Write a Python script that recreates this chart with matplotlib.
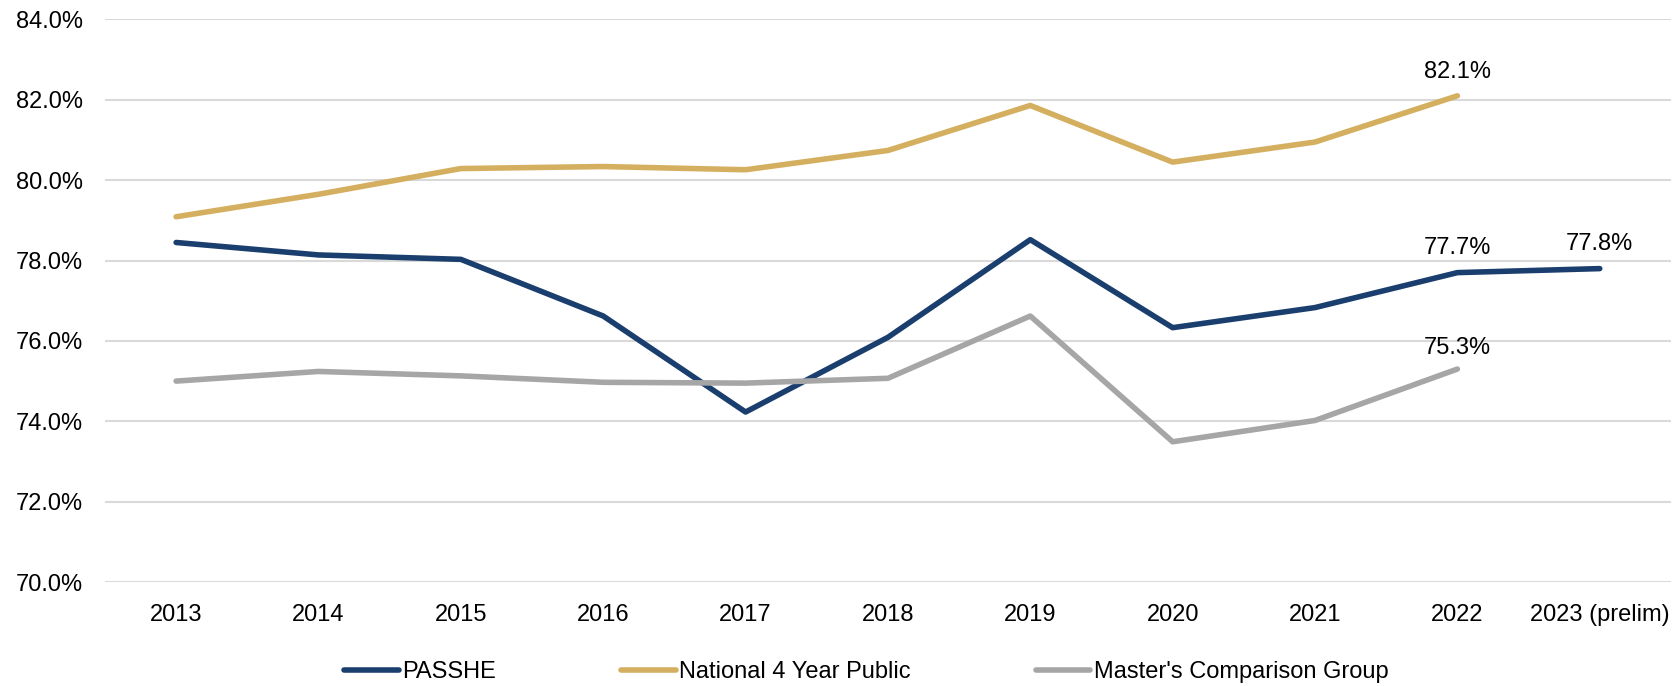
import matplotlib.pyplot as plt
from matplotlib.ticker import FuncFormatter

plt.rcParams['font.family'] = ['Liberation Sans', 'DejaVu Sans']

years = ['2013', '2014', '2015', '2016', '2017', '2018', '2019', '2020', '2021', '2022', '2023 (prelim)']
passhe = [78.45, 78.14, 78.03, 76.62, 74.23, 76.09, 78.52, 76.33, 76.83, 77.7, 77.8]
national = [79.09, 79.65, 80.29, 80.34, 80.26, 80.74, 81.86, 80.45, 80.95, 82.1]
masters = [75.0, 75.24, 75.13, 74.97, 74.95, 75.07, 76.62, 73.49, 74.02, 75.3]

c_passhe = '#1a3e6d'
c_nat = '#d4af5f'
c_mas = '#a6a6a6'
fs = 17

fig = plt.figure(figsize=(16.79, 6.86), dpi=100)
ax = fig.add_axes([0.0625, 0.1516, 0.9327, 0.82])

x = list(range(len(years)))
lw = 4
ax.plot(x, passhe, color=c_passhe, lw=lw, solid_capstyle='round', label='PASSHE')
ax.plot(x[:len(national)], national, color=c_nat, lw=lw, solid_capstyle='round', label='National 4 Year Public')
ax.plot(x[:len(masters)], masters, color=c_mas, lw=lw, solid_capstyle='round', label="Master's Comparison Group")

# data labels on the last points
labels = [(9, national[9], 17), (9, passhe[9], 18), (10, passhe[10], 18), (9, masters[9], 15)]
for xi, v, off in labels:
    ax.annotate(f'{v:.1f}%', (xi, v), xytext=(0, off), textcoords='offset points',
                ha='center', va='center', fontsize=fs)

ax.set_xlim(-0.5, len(years) - 0.5)
ax.set_ylim(70, 84)
ax.set_yticks([70, 72, 74, 76, 78, 80, 82, 84])
ax.yaxis.set_major_formatter(FuncFormatter(lambda v, p: f'{v:.1f}%'))
ax.set_xticks(x)
ax.set_xticklabels(years)
ax.tick_params(axis='both', length=0, labelsize=fs)
ax.tick_params(axis='y', pad=16)
ax.tick_params(axis='x', pad=15.5)
ax.grid(axis='y', color='#d9d9d9', lw=1.5)
ax.set_axisbelow(True)
for s in ax.spines.values():
    s.set_visible(False)

fig.legend(loc='center', bbox_to_anchor=(0.516, 0.02), ncol=3, frameon=False,
           fontsize=fs, handlelength=2.3, handletextpad=0.15, columnspacing=5.3)

fig.savefig('out.png', dpi=100)
